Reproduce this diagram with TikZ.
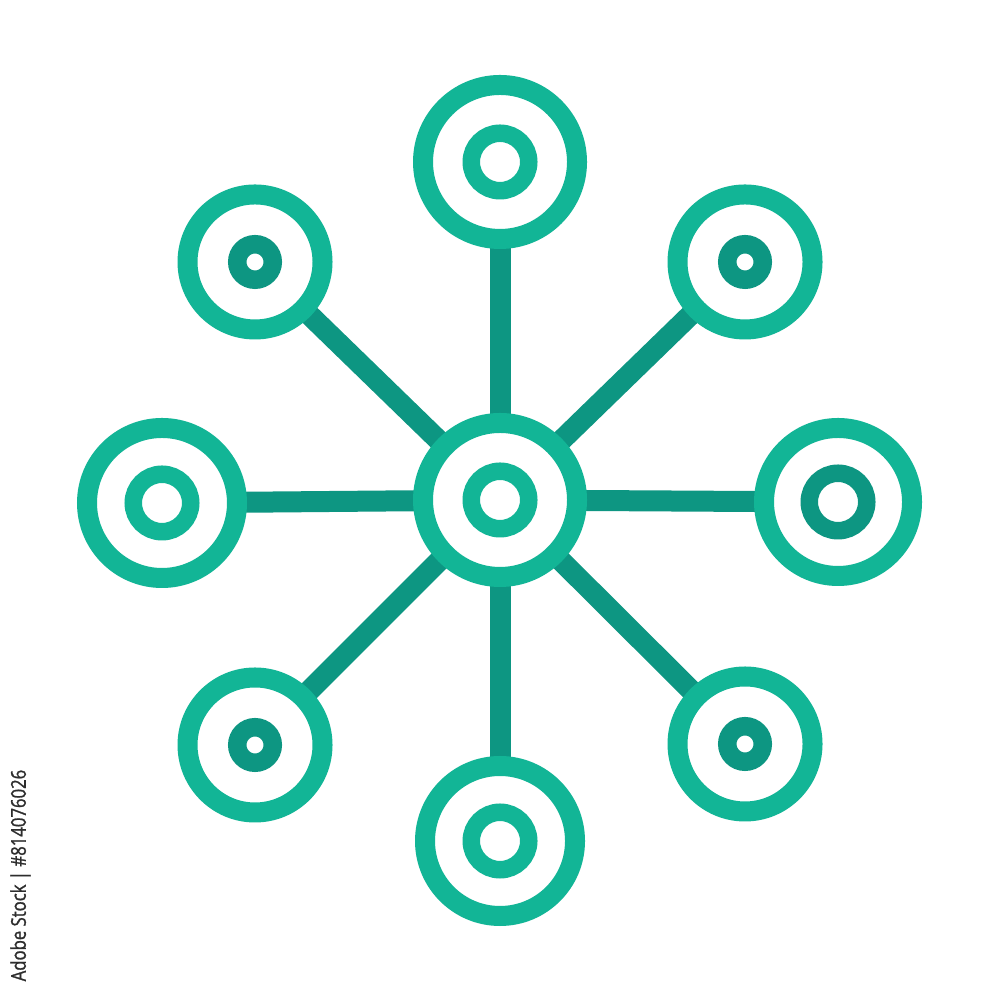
\documentclass[tikz,border=0pt]{standalone}
\usepackage{fontspec}
\setsansfont{Open Sans}
\newfontfamily\wmfont[FakeStretch=0.82, FakeBold=1.2]{Open Sans}
\definecolor{ringteal}{RGB}{18,181,150}
\definecolor{linkteal}{RGB}{13,150,130}
\definecolor{markgray}{RGB}{45,45,45}
\pgfdeclarelayer{paper}
\pgfdeclarelayer{links}
\pgfsetlayers{paper,links,main}
\tikzset{
  outerring/.style={circle, draw=ringteal, line width=2mm, inner sep=0pt, outer sep=0pt, minimum size=#1},
  innerring/.style={circle, draw=#1, line width=1.75mm, inner sep=0pt, outer sep=0pt, minimum size=5.75mm},
  dotring/.style={circle, draw=linkteal, line width=1.85mm, inner sep=0pt, outer sep=0pt, minimum size=3.55mm},
  link/.style={draw=linkteal, line width=2.1mm}
}
\begin{document}
\begin{tikzpicture}
\useasboundingbox (0,0) rectangle (10,10);
\begin{pgfonlayer}{paper}
  \fill[white] (0,0) rectangle (10,10);
\end{pgfonlayer}

% hub and spokes (outer rings)
\node[outerring=15.4mm] (c)  at (5,5) {};
\node[outerring=15.4mm] (t)  at (5,8.38) {};
\node[outerring=15.0mm] (b)  at (5,1.59) {};
\node[outerring=15.0mm] (l)  at (1.62,4.97) {};
\node[outerring=14.8mm] (r)  at (8.38,4.98) {};
\node[outerring=13.5mm] (tl) at (2.55,7.38) {};
\node[outerring=13.5mm] (tr) at (7.45,7.38) {};
\node[outerring=13.5mm] (bl) at (2.55,2.55) {};
\node[outerring=13.5mm] (br) at (7.45,2.56) {};

% inner rings
\node[innerring=ringteal] (c-in) at (c) {};
\node[innerring=ringteal] (t-in) at (t) {};
\node[innerring=ringteal] (b-in) at (b) {};
\node[innerring=ringteal] (l-in) at (l) {};
\node[innerring=linkteal] (r-in) at (r) {};
\node[dotring] (tl-in) at (tl) {};
\node[dotring] (tr-in) at (tr) {};
\node[dotring] (bl-in) at (bl) {};
\node[dotring] (br-in) at (br) {};

% connectors
\begin{pgfonlayer}{links}
  \draw[link] (c) -- (t);
  \draw[link] (c) -- (b);
  \draw[link] (c) -- (l);
  \draw[link] (c) -- (r);
  \draw[link] (c) -- (tl);
  \draw[link] (c) -- (tr);
  \draw[link] (c) -- (bl);
  \draw[link] (c) -- (br);
\end{pgfonlayer}

% watermark text
\node[rotate=90, anchor=west, inner sep=0pt, text=markgray,
      font=\wmfont\fontsize{5.8pt}{6.5pt}\selectfont] (wm) at (0.205,0.18) {Adobe Stock | \#814076026};
\end{tikzpicture}
\end{document}
